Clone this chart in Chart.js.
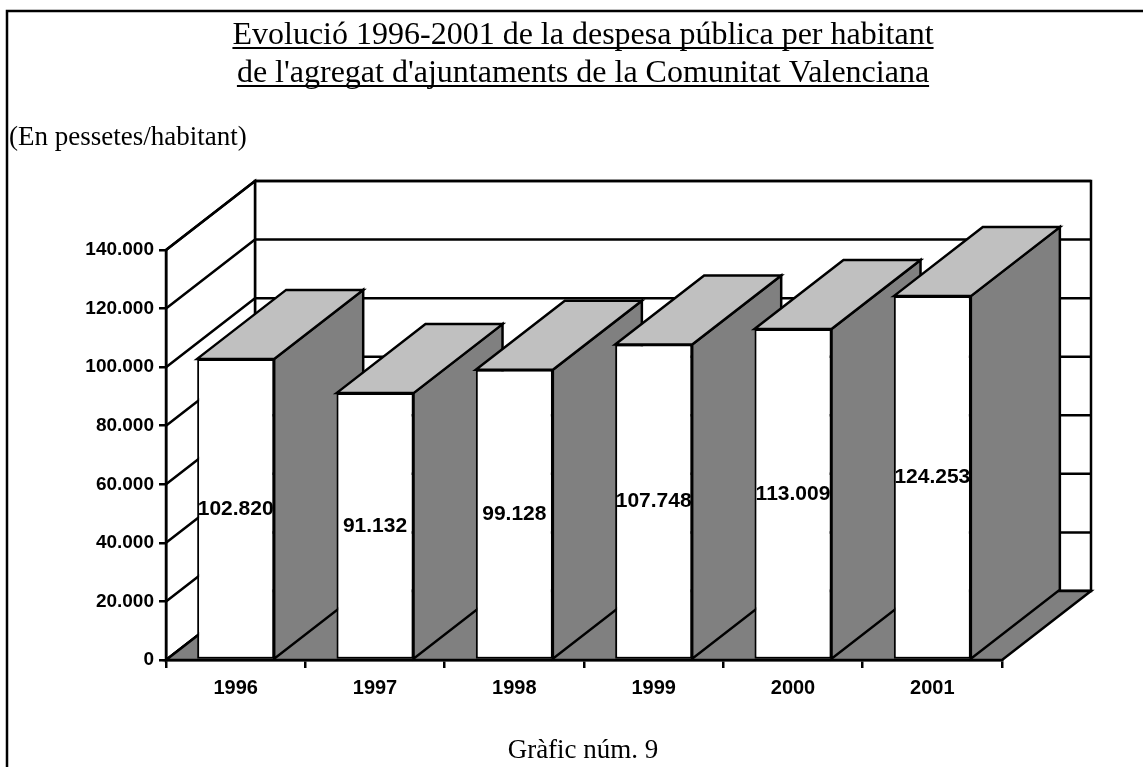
<!DOCTYPE html>
<html>
<head>
<meta charset="utf-8">
<script src="https://cdn.jsdelivr.net/npm/chart.js@4.4.0/dist/chart.umd.min.js"></script>
<style>
  html, body { margin: 0; padding: 0; background: #fff; }
  canvas { display: block; }
</style>
</head>
<body>
<canvas id="chart" width="1143" height="767"></canvas>
<script>
// --- Data ---
const years = ['1996', '1997', '1998', '1999', '2000', '2001'];
const spending = [102820, 91132, 99128, 107748, 113009, 124253];
const yTicks = [0, 20000, 40000, 60000, 80000, 100000, 120000, 140000];

const titleLines = [
    'Evolució 1996-2001 de la despesa pública per habitant',
    "de l'agregat d'ajuntaments de la Comunitat Valenciana"
];
const unitsLabel = '(En pessetes/habitant)';
const footerLabel = 'Gràfic núm. 9';

// --- 3D look ---
const DEPTH_X = 89;
const DEPTH_Y = 69;
const SIDE = '#808080';
const TOP = '#c0c0c0';
const LINE = 2.5;
const SERIF = '"Liberation Serif", "Times New Roman", serif';
const SANS = '"Liberation Sans", Arial, sans-serif';

const fmt = v => String(v).replace(/\B(?=(\d{3})+(?!\d))/g, '.');

function poly(ctx, pts, fill) {
    ctx.beginPath();
    ctx.moveTo(pts[0][0], pts[0][1]);
    for (let i = 1; i < pts.length; i++) ctx.lineTo(pts[i][0], pts[i][1]);
    ctx.closePath();
    if (fill) { ctx.fillStyle = fill; ctx.fill(); }
    ctx.stroke();
}

// walls, floor, bar sides/tops, labels and page texts
const box3d = {
    id: 'box3d',
    beforeDatasetsDraw(chart) {
        const { ctx, chartArea: a, scales: { y } } = chart;
        const dx = DEPTH_X, dy = DEPTH_Y;
        ctx.save();
        ctx.strokeStyle = '#000';
        ctx.lineWidth = LINE;

        // back wall + left wall
        poly(ctx, [[a.left + dx, a.top - dy], [a.right + dx, a.top - dy], [a.right + dx, a.bottom - dy], [a.left + dx, a.bottom - dy]], '#fff');
        poly(ctx, [[a.left, a.top], [a.left + dx, a.top - dy], [a.left + dx, a.bottom - dy], [a.left, a.bottom]], '#fff');

        // grid lines on the walls
        yTicks.forEach(v => {
            const py = y.getPixelForValue(v);
            ctx.beginPath();
            ctx.moveTo(a.left, py);
            ctx.lineTo(a.left + dx, py - dy);
            ctx.lineTo(a.right + dx, py - dy);
            ctx.stroke();
        });

        // floor
        poly(ctx, [[a.left, a.bottom], [a.right, a.bottom], [a.right + dx, a.bottom - dy], [a.left + dx, a.bottom - dy]], SIDE);

        // side and top of every bar, left to right
        chart.getDatasetMeta(0).data.forEach(bar => {
            const { x, y: top, base, width } = bar.getProps(['x', 'y', 'base', 'width'], true);
            const l = x - width / 2, r = x + width / 2;
            poly(ctx, [[r, top], [r + dx, top - dy], [r + dx, base - dy], [r, base]], SIDE);
            poly(ctx, [[l, top], [l + dx, top - dy], [r + dx, top - dy], [r, top]], TOP);
        });
        ctx.restore();
    },
    afterDatasetsDraw(chart) {
        const { ctx } = chart;
        ctx.save();
        ctx.fillStyle = '#000';
        ctx.font = 'bold 21px ' + SANS;
        ctx.textAlign = 'center';
        ctx.textBaseline = 'middle';
        chart.getDatasetMeta(0).data.forEach((bar, i) => {
            const { x, y, base } = bar.getProps(['x', 'y', 'base'], true);
            ctx.fillText(fmt(spending[i]), x, (y + base) / 2);
        });
        ctx.restore();
    },
    afterDraw(chart) {
        const { ctx } = chart;
        ctx.save();
        ctx.fillStyle = '#000';
        ctx.strokeStyle = '#000';

        // title, underlined
        ctx.font = '32px ' + SERIF;
        ctx.textAlign = 'center';
        ctx.textBaseline = 'alphabetic';
        ctx.lineWidth = 2;
        titleLines.forEach((t, i) => {
            const by = 44 + i * 38;
            ctx.fillText(t, 583, by);
            const w = ctx.measureText(t).width;
            ctx.beginPath();
            ctx.moveTo(583 - w / 2, by + 4);
            ctx.lineTo(583 + w / 2, by + 4);
            ctx.stroke();
        });

        ctx.font = '27px ' + SERIF;
        ctx.textAlign = 'left';
        ctx.fillText(unitsLabel, 9, 145);

        ctx.textAlign = 'center';
        ctx.fillText(footerLabel, 583, 758);

        // page frame
        ctx.lineWidth = 2.5;
        ctx.beginPath();
        ctx.moveTo(7, 767);
        ctx.lineTo(7, 11);
        ctx.lineTo(1143, 11);
        ctx.stroke();
        ctx.restore();
    }
};

new Chart(document.getElementById('chart'), {
    type: 'bar',
    data: {
        labels: years,
        datasets: [{
            data: spending,
            backgroundColor: '#fff',
            borderColor: '#000',
            borderWidth: 2,
            borderSkipped: false,
            categoryPercentage: 1,
            barPercentage: 0.553
        }]
    },
    options: {
        responsive: false,
        animation: false,
        events: [],
        layout: { padding: { top: 250, right: 141, left: 0, bottom: 0 } },
        plugins: { legend: { display: false }, tooltip: { enabled: false } },
        scales: {
            x: {
                offset: true,
                grid: { offset: true, drawOnChartArea: false, tickLength: 8, color: '#000', lineWidth: LINE, z: 1 },
                border: { display: true, color: '#000', width: LINE, z: 2 },
                ticks: { color: '#000', padding: 8, maxRotation: 0, font: { family: SANS, size: 20, weight: 'bold' } },
                afterFit: s => { s.height = 107; }
            },
            y: {
                min: 0,
                max: 140000,
                afterBuildTicks: s => { s.ticks = yTicks.map(v => ({ value: v })); },
                grid: { drawOnChartArea: false, tickLength: 7, color: '#000', lineWidth: LINE, z: 1 },
                border: { display: true, color: '#000', width: LINE, z: 2 },
                ticks: { color: '#000', padding: 5, callback: v => fmt(v), font: { family: SANS, size: 19, weight: 'bold' } },
                afterFit: s => { s.width = 166; }
            }
        }
    },
    plugins: [box3d]
});
</script>
</body>
</html>
